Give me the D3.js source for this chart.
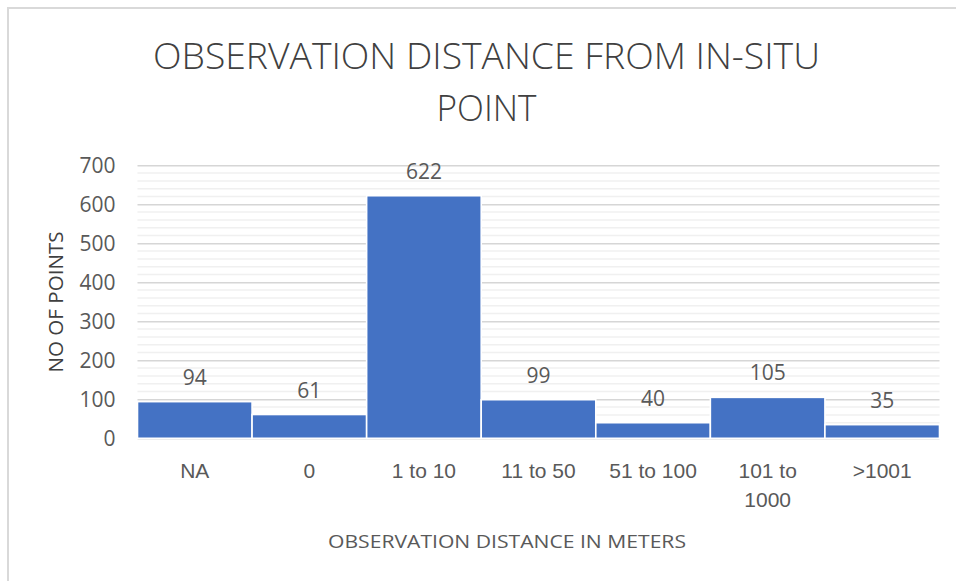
<!DOCTYPE html>
<html>
<head>
<meta charset="utf-8">
<script src="https://cdn.jsdelivr.net/npm/d3@7"></script>
<style>
  html, body { margin: 0; padding: 0; background: #fff; }
  svg { display: block; font-family: "Open Sans", "DejaVu Sans", sans-serif; }
</style>
</head>
<body>
<svg id="chart" width="956" height="581"></svg>
<script>
// Observation counts per distance class
const categories = ["NA", "0", "1 to 10", "11 to 50", "51 to 100", "101 to 1000", ">1001"];
const counts = [94, 61, 622, 99, 40, 105, 35];
const yTicks = [0, 100, 200, 300, 400, 500, 600, 700];
const titleLines = ["OBSERVATION DISTANCE FROM IN-SITU", "POINT"];
const xTitle = "OBSERVATION DISTANCE IN METERS";
const yTitle = "NO OF POINTS";

const svg = d3.select("#chart");
const W = 956, H = 581;
const plot = { left: 137.5, right: 939.5, top: 165.3, bottom: 438.3 };

// chart frame
svg.append("rect")
  .attr("x", 8).attr("y", 8)
  .attr("width", W + 20).attr("height", H + 20)
  .attr("fill", "#fff")
  .attr("stroke", "#d9d9d9").attr("stroke-width", 2);

const x = d3.scaleBand()
  .domain(categories)
  .range([plot.left, plot.right])
  .paddingInner(0).paddingOuter(0);

const y = d3.scaleLinear()
  .domain([0, 700])
  .range([plot.bottom, plot.top]);

// minor gridlines every 20
const minor = d3.range(20, 700, 20).filter(v => v % 100 !== 0);
svg.append("g").selectAll("line").data(minor).join("line")
  .attr("x1", plot.left).attr("x2", plot.right)
  .attr("y1", d => y(d)).attr("y2", d => y(d))
  .attr("stroke", "#f0f0f0").attr("stroke-width", 1.5);

// major gridlines + tick labels via axis
const yAxis = d3.axisLeft(y)
  .tickValues(yTicks)
  .tickSize(-(plot.right - plot.left))
  .tickPadding(22);
const gy = svg.append("g")
  .attr("transform", `translate(${plot.left},0)`)
  .call(yAxis);
gy.select(".domain").remove();
gy.selectAll(".tick line").attr("stroke", "#d6d6d6").attr("stroke-width", 1.6);
gy.selectAll(".tick text")
  .attr("fill", "#595959")
  .style("font-size", "21px")
  .attr("font-family", "Open Sans, sans-serif");

// bars
svg.append("g").selectAll("rect").data(counts).join("rect")
  .attr("x", (d, i) => x(categories[i]))
  .attr("y", d => y(d))
  .attr("width", x.bandwidth())
  .attr("height", d => y(0) - y(d))
  .attr("fill", "#4472C4")
  .attr("stroke", "#ffffff")
  .attr("stroke-width", 1.6);

// value labels
svg.append("g").selectAll("text").data(counts).join("text")
  .attr("x", (d, i) => x(categories[i]) + x.bandwidth() / 2)
  .attr("y", d => y(d) - 17)
  .attr("text-anchor", "middle")
  .attr("fill", "#595959")
  .style("font-size", "21px")
  .text(d => d);

// category labels (wrapped like "101 to / 1000")
const xAxis = d3.axisBottom(x).tickSize(0).tickPadding(0);
const gx = svg.append("g")
  .attr("transform", `translate(0,${plot.bottom})`)
  .call(xAxis);
gx.select(".domain").remove();
gx.selectAll(".tick text").each(function (d) {
  const t = d3.select(this);
  t.text(null)
    .attr("y", 0).attr("dy", null)
    .attr("fill", "#595959")
    .style("font-size", "21px");
  const words = d === "101 to 1000" ? ["101 to", "1000"] : [d];
  words.forEach((w, i) => {
    t.append("tspan").attr("x", 0).attr("y", 40 + i * 28.5).text(w);
  });
});

// axis titles
svg.append("text")
  .attr("x", 507).attr("y", 548)
  .attr("text-anchor", "middle")
  .attr("fill", "#595959")
  .style("font-size", "19px")
  .attr("textLength", 358)
  .attr("lengthAdjust", "spacingAndGlyphs")
  .text(xTitle);

svg.append("text")
  .attr("transform", "translate(63,302) rotate(-90)")
  .attr("text-anchor", "middle")
  .attr("fill", "#404040")
  .style("font-size", "20px")
  .style("font-weight", 500)
  .attr("textLength", 141)
  .attr("lengthAdjust", "spacingAndGlyphs")
  .text(yTitle);

// chart title
svg.append("g").selectAll("text").data(titleLines).join("text")
  .attr("x", 486.5)
  .attr("y", (d, i) => 69 + i * 52)
  .attr("text-anchor", "middle")
  .attr("fill", "#404040")
  .style("font-size", "36px")
  .style("font-weight", 300)
  .attr("textLength", (d, i) => i === 0 ? 667 : 100)
  .attr("lengthAdjust", "spacingAndGlyphs")
  .text(d => d);
</script>
</body>
</html>
